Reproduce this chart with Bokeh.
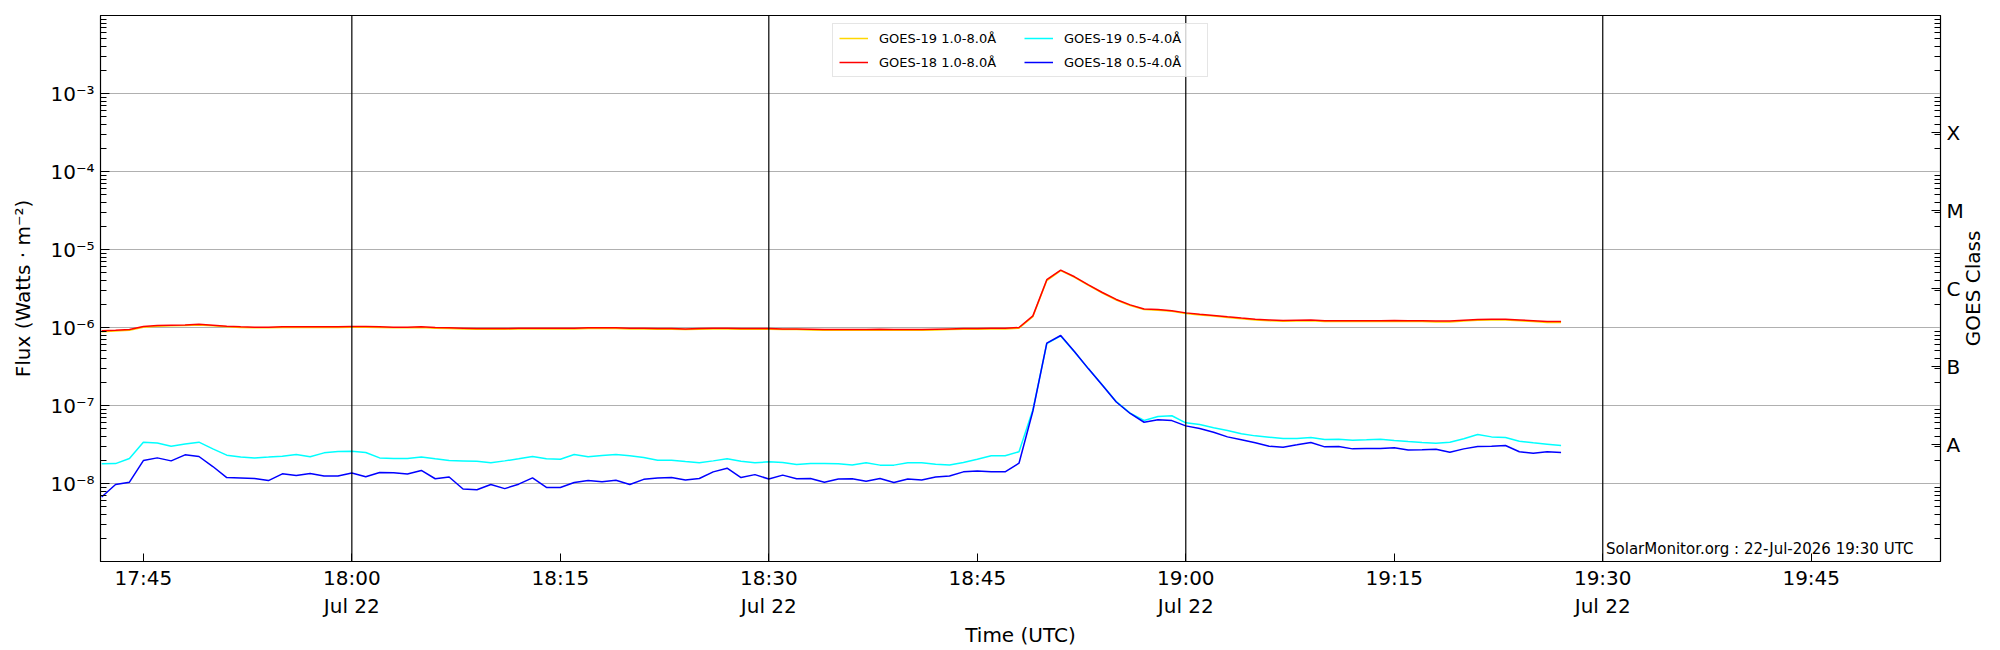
import math
import pandas as pd
from bokeh.plotting import figure
from bokeh.models import Range1d, LogAxis, FixedTicker, Span, Label, Legend, LegendItem
from bokeh.embed import file_html
from bokeh.resources import INLINE

# ---------------- data (1-minute samples starting 17:42 UTC, 22-Jul-2026) ----------------
start_time = "2026-07-22 17:42"

goes18_long = [  # GOES-18 1.0-8.0 A (red)
    9.1e-7, 9.2e-7, 9.4e-7, 1.03e-6, 1.06e-6, 1.07e-6, 1.08e-6, 1.10e-6, 1.07e-6, 1.04e-6,
    1.02e-6, 1.01e-6, 1.01e-6, 1.02e-6, 1.02e-6, 1.02e-6, 1.02e-6, 1.02e-6, 1.03e-6, 1.03e-6,
    1.02e-6, 1.01e-6, 1.01e-6, 1.02e-6, 1.00e-6, 9.9e-7, 9.8e-7, 9.7e-7, 9.7e-7, 9.7e-7,
    9.8e-7, 9.8e-7, 9.8e-7, 9.8e-7, 9.8e-7, 9.9e-7, 9.9e-7, 9.9e-7, 9.8e-7, 9.8e-7,
    9.7e-7, 9.7e-7, 9.6e-7, 9.7e-7, 9.8e-7, 9.8e-7, 9.7e-7, 9.7e-7, 9.7e-7, 9.6e-7,
    9.6e-7, 9.5e-7, 9.4e-7, 9.4e-7, 9.4e-7, 9.4e-7, 9.5e-7, 9.4e-7, 9.4e-7, 9.4e-7,
    9.5e-7, 9.6e-7, 9.7e-7, 9.7e-7, 9.8e-7, 9.8e-7, 1.00e-6, 1.41e-6, 4.1e-6, 5.43e-6,
    4.47e-6, 3.52e-6, 2.81e-6, 2.29e-6, 1.95e-6, 1.73e-6, 1.70e-6, 1.64e-6, 1.54e-6, 1.48e-6,
    1.43e-6, 1.37e-6, 1.32e-6, 1.28e-6, 1.25e-6, 1.23e-6, 1.24e-6, 1.25e-6, 1.22e-6, 1.22e-6,
    1.22e-6, 1.22e-6, 1.22e-6, 1.23e-6, 1.22e-6, 1.22e-6, 1.21e-6, 1.21e-6, 1.24e-6, 1.27e-6,
    1.28e-6, 1.28e-6, 1.25e-6, 1.22e-6, 1.19e-6, 1.19e-6,
]

goes19_long = [  # GOES-19 1.0-8.0 A (gold)
    8.8e-7, 9.0e-7, 9.2e-7, 1.01e-6, 1.04e-6, 1.05e-6, 1.06e-6, 1.08e-6, 1.05e-6, 1.02e-6,
    1.00e-6, 9.9e-7, 9.9e-7, 1.00e-6, 1.00e-6, 1.00e-6, 1.00e-6, 1.00e-6, 1.01e-6, 1.01e-6,
    1.00e-6, 9.9e-7, 9.9e-7, 1.00e-6, 9.8e-7, 9.7e-7, 9.6e-7, 9.5e-7, 9.5e-7, 9.5e-7,
    9.6e-7, 9.6e-7, 9.6e-7, 9.6e-7, 9.6e-7, 9.7e-7, 9.7e-7, 9.7e-7, 9.6e-7, 9.6e-7,
    9.5e-7, 9.5e-7, 9.4e-7, 9.5e-7, 9.6e-7, 9.6e-7, 9.5e-7, 9.5e-7, 9.5e-7, 9.4e-7,
    9.4e-7, 9.3e-7, 9.2e-7, 9.2e-7, 9.2e-7, 9.2e-7, 9.3e-7, 9.2e-7, 9.2e-7, 9.2e-7,
    9.3e-7, 9.4e-7, 9.5e-7, 9.5e-7, 9.6e-7, 9.6e-7, 9.8e-7, 1.38e-6, 4.0e-6, 5.35e-6,
    4.40e-6, 3.46e-6, 2.76e-6, 2.25e-6, 1.91e-6, 1.70e-6, 1.67e-6, 1.61e-6, 1.51e-6, 1.45e-6,
    1.40e-6, 1.34e-6, 1.29e-6, 1.25e-6, 1.22e-6, 1.20e-6, 1.21e-6, 1.22e-6, 1.19e-6, 1.19e-6,
    1.19e-6, 1.19e-6, 1.19e-6, 1.20e-6, 1.19e-6, 1.19e-6, 1.18e-6, 1.18e-6, 1.21e-6, 1.24e-6,
    1.25e-6, 1.25e-6, 1.22e-6, 1.19e-6, 1.16e-6, 1.16e-6,
]

goes19_short = [  # GOES-19 0.5-4.0 A (cyan)
    1.79e-8, 1.80e-8, 2.09e-8, 3.39e-8, 3.30e-8, 3.01e-8, 3.20e-8, 3.39e-8, 2.78e-8, 2.31e-8,
    2.18e-8, 2.13e-8, 2.18e-8, 2.24e-8, 2.35e-8, 2.20e-8, 2.47e-8, 2.57e-8, 2.60e-8, 2.50e-8,
    2.13e-8, 2.09e-8, 2.09e-8, 2.18e-8, 2.07e-8, 1.97e-8, 1.95e-8, 1.93e-8, 1.84e-8, 1.95e-8,
    2.07e-8, 2.22e-8, 2.07e-8, 2.05e-8, 2.35e-8, 2.20e-8, 2.29e-8, 2.35e-8, 2.27e-8, 2.16e-8,
    1.99e-8, 1.99e-8, 1.91e-8, 1.84e-8, 1.95e-8, 2.07e-8, 1.93e-8, 1.84e-8, 1.90e-8, 1.86e-8,
    1.75e-8, 1.80e-8, 1.80e-8, 1.79e-8, 1.73e-8, 1.84e-8, 1.72e-8, 1.72e-8, 1.84e-8, 1.84e-8,
    1.77e-8, 1.73e-8, 1.86e-8, 2.05e-8, 2.27e-8, 2.27e-8, 2.55e-8, 8.8e-8, 6.2e-7, 7.8e-7,
    4.85e-7, 2.95e-7, 1.83e-7, 1.12e-7, 8.0e-8, 6.43e-8, 7.23e-8, 7.38e-8, 6.0e-8, 5.7e-8,
    5.17e-8, 4.78e-8, 4.33e-8, 4.08e-8, 3.93e-8, 3.78e-8, 3.78e-8, 3.89e-8, 3.66e-8, 3.70e-8,
    3.59e-8, 3.63e-8, 3.70e-8, 3.56e-8, 3.45e-8, 3.36e-8, 3.29e-8, 3.38e-8, 3.74e-8, 4.25e-8,
    3.96e-8, 3.89e-8, 3.49e-8, 3.32e-8, 3.19e-8, 3.07e-8,
]

goes18_short = [  # GOES-18 0.5-4.0 A (blue)
    6.7e-9, 9.7e-9, 1.04e-8, 1.97e-8, 2.13e-8, 1.95e-8, 2.33e-8, 2.22e-8, 1.65e-8, 1.19e-8,
    1.18e-8, 1.16e-8, 1.09e-8, 1.33e-8, 1.27e-8, 1.34e-8, 1.25e-8, 1.25e-8, 1.36e-8, 1.22e-8,
    1.38e-8, 1.37e-8, 1.32e-8, 1.47e-8, 1.15e-8, 1.21e-8, 8.5e-9, 8.3e-9, 9.7e-9, 8.6e-9,
    9.8e-9, 1.18e-8, 8.9e-9, 8.9e-9, 1.03e-8, 1.09e-8, 1.05e-8, 1.10e-8, 9.7e-9, 1.13e-8,
    1.18e-8, 1.19e-8, 1.11e-8, 1.16e-8, 1.41e-8, 1.57e-8, 1.19e-8, 1.30e-8, 1.14e-8, 1.28e-8,
    1.15e-8, 1.16e-8, 1.04e-8, 1.14e-8, 1.15e-8, 1.07e-8, 1.16e-8, 1.03e-8, 1.14e-8, 1.11e-8,
    1.21e-8, 1.25e-8, 1.41e-8, 1.45e-8, 1.41e-8, 1.41e-8, 1.82e-8, 8.5e-8, 6.3e-7, 7.9e-7,
    4.9e-7, 2.95e-7, 1.82e-7, 1.11e-7, 7.9e-8, 6.1e-8, 6.55e-8, 6.4e-8, 5.48e-8, 5.07e-8,
    4.55e-8, 3.96e-8, 3.63e-8, 3.32e-8, 3.01e-8, 2.92e-8, 3.13e-8, 3.36e-8, 2.95e-8, 2.98e-8,
    2.78e-8, 2.81e-8, 2.81e-8, 2.87e-8, 2.68e-8, 2.70e-8, 2.75e-8, 2.52e-8, 2.78e-8, 2.98e-8,
    3.01e-8, 3.07e-8, 2.55e-8, 2.45e-8, 2.55e-8, 2.50e-8,
]

series_labels = ["GOES-19 1.0-8.0Å", "GOES-18 1.0-8.0Å", "GOES-19 0.5-4.0Å", "GOES-18 0.5-4.0Å"]
series_colors = ["gold", "red", "cyan", "blue"]

x_tick_times = ["17:45", "18:00", "18:15", "18:30", "18:45", "19:00", "19:15", "19:30", "19:45"]
x_tick_labels = ["17:45", "18:00\nJul 22", "18:15", "18:30\nJul 22", "18:45",
                 "19:00\nJul 22", "19:15", "19:30\nJul 22", "19:45"]
vline_times = ["18:00", "18:30", "19:00", "19:30"]

y_decades = [1e-9, 1e-8, 1e-7, 1e-6, 1e-5, 1e-4, 1e-3, 1e-2]
y_labels = ["", "10⁻⁸", "10⁻⁷", "10⁻⁶", "10⁻⁵", "10⁻⁴", "10⁻³", ""]
goes_class_pos = [10 ** -7.5, 10 ** -6.5, 10 ** -5.5, 10 ** -4.5, 10 ** -3.5]
goes_classes = ["A", "B", "C", "M", "X"]
goes_axis_title = "GOES Class"

watermark = "SolarMonitor.org : 22-Jul-2026 19:30 UTC"

# ---------------- helpers ----------------
DAY = "2026-07-22 "


def ms(t):
    return pd.Timestamp(DAY + t).value / 1e6


times = pd.date_range(start_time, periods=len(goes18_long), freq="1min")

minor = [m * d for d in y_decades[:-1] for m in range(2, 10)]

FONT = "DejaVu Sans"

p = figure(
    x_axis_type="datetime", y_axis_type="log",
    x_range=Range1d(ms("17:41:55"), ms("19:54:18")),
    y_range=Range1d(1e-9, 1e-2),
    frame_width=1840, frame_height=546,
    min_border_left=100, min_border_right=52, min_border_top=15, min_border_bottom=78,
    output_backend="svg", toolbar_location=None,
    background_fill_color="white", border_fill_color="white",
)
p.outline_line_color = "black"
p.outline_line_width = 1.2
p.outline_line_alpha = 1.0

# grid
p.xgrid.visible = False
p.ygrid.ticker = FixedTicker(ticks=y_decades)
p.ygrid.grid_line_color = "#b0b0b0"
p.ygrid.grid_line_width = 1

# x axis
xa = p.xaxis[0]
xt = [ms(t) for t in x_tick_times]
xa.ticker = FixedTicker(ticks=xt, minor_ticks=[])
xa.major_label_overrides = {v: lab for v, lab in zip(xt, x_tick_labels)}
xa.major_tick_in = 8
xa.major_tick_out = 0
xa.minor_tick_in = 0
xa.minor_tick_out = 0
xa.major_label_standoff = 4
xa.major_label_text_font = FONT
xa.major_label_text_font_size = "20px"
xa.major_label_text_color = "black"
xa.axis_label = "Time (UTC)"
xa.axis_label_text_font = FONT
xa.axis_label_text_font_size = "20px"
xa.axis_label_text_font_style = "normal"
xa.axis_label_text_color = "black"
xa.axis_label_standoff = 2
xa.axis_line_color = "black"
xa.major_tick_line_color = "black"

# left y axis
ya = p.yaxis[0]
ya.ticker = FixedTicker(ticks=y_decades, minor_ticks=minor)
ya.major_label_overrides = {v: lab for v, lab in zip(y_decades, y_labels)}
ya.major_tick_in = 9
ya.major_tick_out = 0
ya.minor_tick_in = 6
ya.minor_tick_out = 0
ya.major_label_standoff = 6
ya.major_label_text_font = FONT
ya.major_label_text_font_size = "20px"
ya.major_label_text_color = "black"
ya.axis_label = "Flux (Watts · m⁻²)"
ya.axis_label_text_font = FONT
ya.axis_label_text_font_size = "20px"
ya.axis_label_text_font_style = "normal"
ya.axis_label_text_color = "black"
ya.axis_label_standoff = 12

# right GOES class axis
ra = LogAxis(
    ticker=FixedTicker(ticks=goes_class_pos, minor_ticks=minor),
    major_label_overrides={v: lab for v, lab in zip(goes_class_pos, goes_classes)},
    major_tick_in=9, major_tick_out=0, minor_tick_in=6, minor_tick_out=0,
    major_label_standoff=6,
    major_label_text_font=FONT, major_label_text_font_size="20px",
    major_label_text_color="black",
)
p.add_layout(ra, "right")

# title of the class axis: a tick-less outer axis whose single label reads bottom-to-top;
# the rotated text starts at its anchor, so the anchor sits half a label length below centre
title_anchor = 10 ** -6.24
ta = LogAxis(
    ticker=FixedTicker(ticks=[title_anchor], minor_ticks=[]),
    major_label_overrides={title_anchor: goes_axis_title},
    major_label_orientation=math.pi / 2,
    major_tick_in=0, major_tick_out=0, minor_tick_in=0, minor_tick_out=0,
    axis_line_color=None, major_tick_line_color=None, minor_tick_line_color=None,
    major_label_standoff=7,
    major_label_text_font=FONT, major_label_text_font_size="20px",
    major_label_text_color="black",
)
p.add_layout(ta, "right")

# vertical half-hour markers
for t in vline_times:
    p.add_layout(Span(location=ms(t), dimension="height", line_color="black", line_width=1.2))

# lines (draw order: GOES-19 long, GOES-18 long, GOES-19 short, GOES-18 short)
values = [goes19_long, goes18_long, goes19_short, goes18_short]
renderers = []
for vals, col in zip(values, series_colors):
    r = p.line(times, vals, line_color=col, line_width=1.5)
    renderers.append(r)

legend = Legend(
    items=[LegendItem(label=lab, renderers=[r]) for lab, r in zip(series_labels, renderers)],
    location="top_center", orientation="vertical", nrows=2,
    margin=8, padding=6, spacing=8,
    glyph_width=29, glyph_height=16, label_height=16, label_width=137, label_standoff=11,
    label_text_font=FONT, label_text_font_size="13px", label_text_color="black",
    border_line_color="#cccccc", border_line_width=1,
    background_fill_color="white", background_fill_alpha=0.8,
)
p.add_layout(legend)

p.add_layout(Label(
    x=ms("19:52:21"), y=1.44e-9, text=watermark,
    text_align="right", text_baseline="alphabetic",
    text_font=FONT, text_font_size="15px", text_color="black",
))

open("out.html", "w").write(file_html(p, INLINE))
